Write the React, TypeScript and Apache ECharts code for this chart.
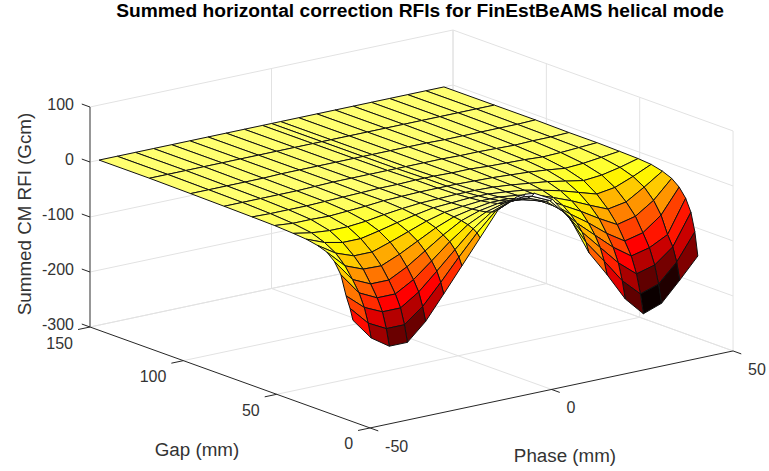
import React, { useEffect, useRef } from "react";
import * as echarts from "echarts";

const titleText = "Summed horizontal correction RFIs for FinEstBeAMS helical mode";
const zLabel = "Summed CM RFI (Gcm)";
const gapLabel = "Gap (mm)";
const phaseLabel = "Phase (mm)";

const phaseTicks = [-50, 0, 50];
const gapTicks = [0, 50, 100, 150];
const zTicks = [-300, -200, -100, 0, 100];

const phases = [-47.5, -42.5, -37.5, -32.5, -27.5, -22.5, -17.5, -12.5, -7.5, -2.5, 0, 2.5, 7.5, 12.5, 17.5, 22.5, 27.5, 32.5, 37.5, 42.5, 47.5];
const gaps = [14, 15.6, 17.7, 20.5, 24, 28, 33, 39, 46, 56, 68, 83, 101, 123, 150];
const rfi = [
  [-125, -164, -186, -186, -155, -112, -68, -24, 20, 36, 38, 36, 18, -26, -93, -140, -191, -225, -213, -178, -141],
  [-105, -139, -156, -156, -130, -93, -54, -17, 15, 29, 31, 29, 14, -21, -76, -117, -160, -191, -180, -147, -99],
  [-85, -113, -128, -128, -106, -75, -43, -12, 11, 23, 24, 23, 10, -16, -60, -95, -130, -157, -148, -122, -66],
  [-50, -90, -106, -106, -87, -60, -32, -8, 8, 17, 18, 17, 7, -12, -47, -76, -105, -128, -120, -103, -44],
  [-30, -70, -85, -85, -68, -46, -24, -5, 6, 12, 13, 12, 5, -9, -35, -58, -84, -105, -97, -72, -28],
  [-18, -50, -63, -64, -50, -33, -16, -3, 4, 9, 9, 9, 3, -6, -24, -42, -62, -80, -72, -50, -17],
  [-12, -33, -45, -45, -34, -22, -10, -1, 3, 6, 6, 6, 2, -4, -16, -29, -44, -58, -52, -32, -10],
  [-8, -21, -28, -28, -21, -13, -6, 0, 2, 4, 4, 4, 1, -3, -10, -18, -28, -38, -33, -20, -5],
  [-6, -12, -15, -15, -12, -7, -3, 0, 1, 2, 2, 2, 1, -2, -6, -10, -16, -22, -19, -12, -3],
  [-4, -7, -7, -8, -6, -4, -1, 0, 1, 1, 1, 1, 0, -1, -3, -5, -8, -12, -10, -6, -2],
  [-3, -4, -4, -4, -3, -2, -1, 0, 0, 1, 1, 1, 0, 0, -2, -3, -4, -6, -5, -3, -1],
  [-2, -2, -2, -2, -2, -1, 0, 0, 0, 0, 0, 0, 0, 0, -1, -1, -2, -3, -2, -2, -1],
  [-1, -1, -1, -1, -1, 0, 0, 0, 0, 0, 0, 0, 0, 0, 0, -1, -1, -1, -1, -1, 0],
  [0, 0, 0, 0, 0, 0, 0, 0, 0, 0, 0, 0, 0, 0, 0, 0, 0, 0, 0, 0, 0],
  [0, 0, 0, 0, 0, 0, 0, 0, 0, 0, 0, 0, 0, 0, 0, 0, 0, 0, 0, 0, 0],
];

// Orthographic view: screen position of phase -50, gap 150, z -300 and the screen step per unit.
const view = { x0: 90, y0: 327, gx: 1.867, gy: 0.673, px: 3.63, py: 0.77, zy: 0.55 };
const project = (p: number, g: number, z: number): [number, number] => [
  view.x0 + view.gx * (150 - g) + view.px * (p + 50),
  view.y0 + view.gy * (150 - g) - view.py * (p + 50) - view.zy * (z + 300),
];

const flat = rfi.reduce((a, r) => a.concat(r), [] as number[]);
const zMin = Math.min(...flat);
const zMax = Math.max(...flat);
const hot = (z: number) => {
  const idx = Math.min(63, Math.floor(((z - zMin) / (zMax - zMin)) * 64)) + 1;
  const r = Math.min(1, idx / 24);
  const g = Math.max(0, Math.min(1, (idx - 24) / 24));
  const b = Math.max(0, Math.min(1, (idx - 48) / 16));
  return `rgb(${Math.round(r * 255)},${Math.round(g * 255)},${Math.round(b * 255)})`;
};

type P3 = [number, number, number];
const wallLines: [P3, P3][] = [];
zTicks.forEach((z) => {
  wallLines.push([[-50, 150, z], [50, 150, z]]);
  wallLines.push([[50, 150, z], [50, 0, z]]);
});
phaseTicks.slice(1).forEach((p) => {
  wallLines.push([[p, 150, -300], [p, 150, 100]]);
  wallLines.push([[p, 0, -300], [p, 150, -300]]);
});
gapTicks.forEach((g) => {
  wallLines.push([[50, g, -300], [50, g, 100]]);
  if (g > 0) wallLines.push([[-50, g, -300], [50, g, -300]]);
});

const axisLines: [P3, P3, string, number][] = [
  [[-50, 0, -300], [50, 0, -300], "#262626", 1],
  [[-50, 0, -300], [-50, 150, -300], "#262626", 1],
  [[-50, 150, -300], [-50, 150, 100], "#6a6a6a", 1.4],
];
phaseTicks.forEach((p) => axisLines.push([[p, 0, -300], [p, -4.4, -300], "#262626", 1]));
gapTicks.forEach((g) => axisLines.push([[-50, g, -300], [-53.3, g, -300], "#262626", 1]));
zTicks.forEach((z) => axisLines.push([[-50, 150, z], [-50, 154.4, z], "#262626", 1]));

const cells: number[][] = [];
for (let r = rfi.length - 2; r >= 0; r--) {
  for (let c = phases.length - 2; c >= 0; c--) cells.push([r, c]);
}

const labelStyle = { fill: "#333", font: '16px "Liberation Sans", Arial, sans-serif' };
const nameStyle = { fill: "#333", font: '18.8px "Liberation Sans", Arial, sans-serif' };

export default function App() {
  const ref = useRef<HTMLDivElement>(null);
  useEffect(() => {
    const chart = echarts.init(ref.current!, null, { renderer: "svg" });
    const graphics: any[] = [];
    zTicks.forEach((z) => {
      const [x, y] = project(-50, 150, z);
      graphics.push({ type: "text", x: x - 16, y: y - 3, style: { ...labelStyle, text: String(z), textAlign: "right", textVerticalAlign: "middle" } });
    });
    gapTicks.forEach((g) => {
      const [x, y] = project(-50, g, -300);
      graphics.push({ type: "text", x: x - 17, y: y + 16, style: { ...labelStyle, text: String(g), textAlign: "right", textVerticalAlign: "middle" } });
    });
    phaseTicks.forEach((p) => {
      const [x, y] = project(p, 0, -300);
      graphics.push({ type: "text", x: x + 15, y: y + 18.5, style: { ...labelStyle, text: String(p), textAlign: "left", textVerticalAlign: "middle" } });
    });
    graphics.push({ type: "text", x: 197, y: 449, style: { ...nameStyle, text: gapLabel, textAlign: "center", textVerticalAlign: "middle" } });
    graphics.push({ type: "text", x: 565, y: 455, style: { ...nameStyle, text: phaseLabel, textAlign: "center", textVerticalAlign: "middle" } });
    graphics.push({ type: "text", x: 24, y: 214, rotation: Math.PI / 2, style: { ...nameStyle, text: zLabel, textAlign: "center", textVerticalAlign: "middle" } });

    const lineItem = (api: any, a: P3, b: P3, stroke: string, lineWidth: number) => {
      const p1 = api.coord(project(a[0], a[1], a[2]));
      const p2 = api.coord(project(b[0], b[1], b[2]));
      return { type: "line", shape: { x1: p1[0], y1: p1[1], x2: p2[0], y2: p2[1] }, style: { stroke, lineWidth } };
    };

    chart.setOption({
      animation: false,
      title: {
        text: titleText,
        left: 420,
        top: 1,
        padding: 0,
        textAlign: "center",
        textStyle: { fontFamily: "Liberation Sans", fontWeight: "bold", fontSize: 19.2, color: "#000" },
      },
      grid: { left: 0, right: 0, top: 0, bottom: 0 },
      xAxis: { type: "value", min: 0, max: 769, show: false },
      yAxis: { type: "value", min: 0, max: 471, inverse: true, show: false },
      graphic: graphics,
      series: [
        {
          type: "custom",
          coordinateSystem: "cartesian2d",
          silent: true,
          z: 1,
          data: wallLines.map((_, i) => [i, 0]),
          renderItem: (params: any, api: any) => {
            const l = wallLines[api.value(0)];
            return lineItem(api, l[0], l[1], "#e2e2e2", 1);
          },
        },
        {
          type: "custom",
          coordinateSystem: "cartesian2d",
          silent: true,
          z: 2,
          data: axisLines.map((_, i) => [i, 0]),
          renderItem: (params: any, api: any) => {
            const l = axisLines[api.value(0)];
            return lineItem(api, l[0], l[1], l[2], l[3]);
          },
        },
        {
          type: "custom",
          coordinateSystem: "cartesian2d",
          silent: true,
          z: 3,
          data: cells,
          renderItem: (params: any, api: any) => {
            const r = api.value(0);
            const c = api.value(1);
            const corners = [[r, c], [r, c + 1], [r + 1, c + 1], [r + 1, c]];
            const points = corners.map(([i, j]) => api.coord(project(phases[j], gaps[i], rfi[i][j])));
            return {
              type: "polygon",
              shape: { points },
              style: { fill: hot(rfi[r][c]), stroke: "#111", lineWidth: 1, lineJoin: "round" },
            };
          },
        },
      ],
    });
    return () => chart.dispose();
  }, []);
  return <div ref={ref} style={{ position: "absolute", left: 0, top: 0, width: 769, height: 471 }} />;
}
